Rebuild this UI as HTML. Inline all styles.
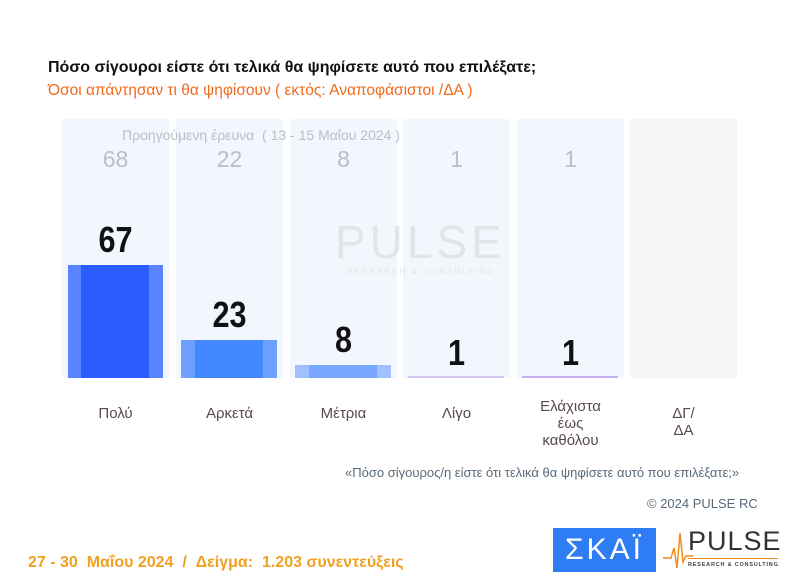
<!DOCTYPE html>
<html><head><meta charset="utf-8"><style>
body{margin:0;width:795px;height:587px;background:#fff;font-family:"Liberation Sans",sans-serif;position:relative;overflow:hidden}
.a{position:absolute}
.col{position:absolute;top:119px;height:259px;width:107px;background:#f2f6fd}
.prev{position:absolute;top:146px;width:107px;text-align:center;font-size:23px;color:#b8c0c8}
.val{position:absolute;width:107px;text-align:center;font-size:36px;font-weight:bold;color:#111;transform:scaleX(0.85)}
.lab{position:absolute;top:405px;width:107px;text-align:center;font-size:15px;color:#5a4a4a;line-height:17px}
</style></head><body>
<div class="a" style="left:48px;top:59px;font-size:16px;font-weight:bold;color:#111">Πόσο σίγουροι είστε ότι τελικά θα ψηφίσετε αυτό που επιλέξατε;</div>
<div class="a" style="left:48px;top:82px;font-size:15.5px;color:#f06a1c">Όσοι απάντησαν τι θα ψηφίσουν ( εκτός: Αναποφάσιστοι /ΔΑ )</div>

<div class="col" style="left:62px"></div>
<div class="col" style="left:176px"></div>
<div class="col" style="left:290px"></div>
<div class="col" style="left:403px"></div>
<div class="col" style="left:517px"></div>
<div class="col" style="left:630px;background:#f6f6f8"></div>

<div class="a" style="left:335px;top:215px;font-size:46px;color:#e4e4e8;letter-spacing:4px">PULSE</div>
<div class="a" style="left:347px;top:267px;font-size:8px;color:#e4e4e8;letter-spacing:2px">RESEARCH &amp; CONSULTING</div>

<div class="a" style="left:122px;top:127px;font-size:14px;color:#b8c0c8">Προηγούμενη έρευνα &nbsp;( 13 - 15 Μαΐου 2024 )</div>
<div class="prev" style="left:62px">68</div>
<div class="prev" style="left:176px">22</div>
<div class="prev" style="left:290px">8</div>
<div class="prev" style="left:403px">1</div>
<div class="prev" style="left:517px">1</div>

<div class="a" style="left:68px;top:265px;width:95px;height:113px;background:#5a84ff"></div>
<div class="a" style="left:81px;top:265px;width:68px;height:113px;background:#2b5cff"></div>
<div class="a" style="left:181px;top:340px;width:96px;height:38px;background:#6ea0ff"></div>
<div class="a" style="left:195px;top:340px;width:68px;height:38px;background:#4488ff"></div>
<div class="a" style="left:295px;top:365px;width:96px;height:13px;background:#a0c0ff"></div>
<div class="a" style="left:309px;top:365px;width:68px;height:13px;background:#78a8ff"></div>
<div class="a" style="left:408px;top:376px;width:96px;height:2px;background:#d8c8f0"></div>
<div class="a" style="left:522px;top:376px;width:96px;height:2px;background:#c8b0f0"></div>

<div class="val" style="left:62px;top:219px">67</div>
<div class="val" style="left:176px;top:294px">23</div>
<div class="val" style="left:290px;top:319px">8</div>
<div class="val" style="left:403px;top:332px">1</div>
<div class="val" style="left:517px;top:332px">1</div>

<div class="lab" style="left:62px">Πολύ</div>
<div class="lab" style="left:176px">Αρκετά</div>
<div class="lab" style="left:290px">Μέτρια</div>
<div class="lab" style="left:403px">Λίγο</div>
<div class="lab" style="left:517px;top:398px">Ελάχιστα<br>έως<br>καθόλου</div>
<div class="lab" style="left:630px">ΔΓ/<br>ΔΑ</div>

<div class="a" style="left:345px;top:465px;font-size:13px;color:#5a6a7a">«Πόσο σίγουρος/η είστε ότι τελικά θα ψηφίσετε αυτό που επιλέξατε;»</div>
<div class="a" style="left:647px;top:496px;font-size:13px;color:#5a6a7a">© 2024 PULSE RC</div>

<div class="a" style="left:553px;top:528px;width:103px;height:44px;background:#2f7df5;color:#fff;font-size:30px;text-align:center;line-height:44px;letter-spacing:3px">ΣΚΑΪ</div>
<svg class="a" style="left:663px;top:528px" width="30" height="44"><polyline points="0,30 8,30 11,20 14,40 17,5 20,34 23,28 30,28" fill="none" stroke="#f28c1c" stroke-width="1.5"/></svg>
<div class="a" style="left:688px;top:526px;font-size:27px;color:#333;letter-spacing:1px">PULSE</div>
<div class="a" style="left:688px;top:558px;width:90px;border-top:1px solid #f28c1c"></div>
<div class="a" style="left:688px;top:562px;font-size:5.5px;color:#444;letter-spacing:0.8px;font-weight:bold">RESEARCH &amp; CONSULTING</div>

<div class="a" style="left:28px;top:554px;font-size:16px;font-weight:bold;color:#f0a020">27 - 30 &nbsp;Μαΐου 2024 &nbsp;/ &nbsp;Δείγμα: &nbsp;1.203 συνεντεύξεις</div>
</body></html>
